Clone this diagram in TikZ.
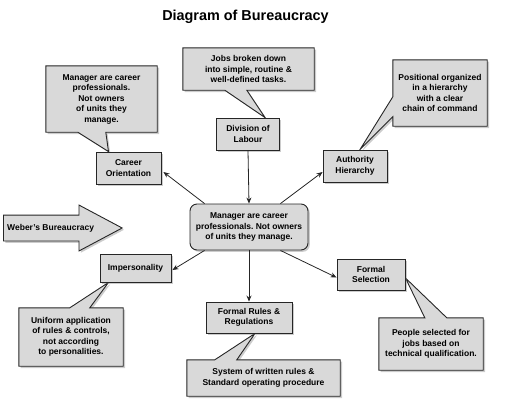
\documentclass[tikz,border=0pt]{standalone}
\usepackage{fontspec}
\setmainfont{Liberation Sans}
\frenchspacing
\usetikzlibrary{%
		shapes.arrows%
		,shadows%
		,backgrounds%
		,arrows.meta%
	}
\definecolor{boxgray}{HTML}{D9D9D9}
\definecolor{edgegray}{HTML}{262626}
\tikzset{
	boxshadow/.style={drop shadow={shadow xshift=1.8pt,shadow yshift=-1.8pt,opacity=.4}},
	labelfont/.style={font=\bfseries\fontsize{8.5}{10.5}\selectfont},
	boxnode/.style={draw=edgegray,line width=0.9pt,fill=boxgray,boxshadow,labelfont,align=center,inner sep=0pt},
	hubnode/.style={boxnode,rounded corners=7pt},
	notetext/.style={labelfont,align=center,inner sep=0pt},
	noteshape/.style={draw=edgegray,line width=0.9pt,fill=boxgray,boxshadow,line join=miter},
	weberarrow/.style={single arrow,draw=edgegray,line width=0.9pt,fill=boxgray,boxshadow,labelfont,
		single arrow head extend=10pt,single arrow tip angle=56,minimum height=114pt,
		inner ysep=8.5pt,text height=6.3pt,text depth=1.7pt},
	link/.style={draw=edgegray,line width=0.8pt,-{Stealth[length=6pt,width=5pt]}}
}

\begin{document}
\begin{tikzpicture}[x=1pt,y=-1pt]
			\useasboundingbox (0,0) rectangle (515,400);

			\node[font=\bfseries\fontsize{14.4}{17}\selectfont,anchor=base] (title) at (245.5,20) {Diagram of Bureaucracy};

			\node[hubnode,minimum width=118pt,minimum height=46pt] (hub) at (249,227) {Manager are career\\professionals. Not owners\\of units they manage.};
			\node[boxnode,minimum width=65pt,minimum height=32pt] (career) at (128.5,168) {Career\\Orientation};
			\node[boxnode,minimum width=63pt,minimum height=32pt] (division) at (248,134) {Division of\\Labour};
			\node[boxnode,minimum width=64pt,minimum height=32pt] (authority) at (355,166) {Authority\\Hierarchy};
			\node[boxnode,minimum width=71pt,minimum height=28pt] (imperson) at (135.5,268) {Impersonality};
			\node[boxnode,minimum width=86pt,minimum height=31pt] (rules) at (249,317.5) {Formal Rules \&\\Regulations};
			\node[boxnode,minimum width=68pt,minimum height=31pt] (selection) at (371,274.5) {Formal\\Selection};

			\node[weberarrow,anchor=tail] (weber) at (3,228) {Weber's Bureaucracy};

			\node[notetext,minimum width=111pt,minimum height=66pt] (careernote) at (101.5,99) {Manager are career\\professionals.\\Not owners\\of units they\\manage.};
			\node[notetext,minimum width=131pt,minimum height=42pt] (jobsnote) at (248.5,69) {Jobs broken down\\into simple, routine \&\\well-defined tasks.};
			\node[notetext,minimum width=94pt,minimum height=66pt] (chainnote) at (440,93) {Positional organized\\in a hierarchy\\with a clear\\chain of command};
			\node[notetext,minimum width=104pt,minimum height=58pt] (impnote) at (71,337) {Uniform application\\of rules \& controls,\\not according\\to personalities.};
			\node[notetext,minimum width=153pt,minimum height=36pt] (sysnote) at (263.5,378) {System of written rules \&\\Standard operating procedure};
			\node[notetext,minimum width=104pt,minimum height=52pt] (selnote) at (431,344) {People selected for\\jobs based on\\technical qualification.};

			\begin{scope}[on background layer]
				\filldraw[noteshape] (careernote.north west) -- (careernote.north east) -- (careernote.south east)
					-- ([xshift=60pt]careernote.south west) -- ([xshift=-20pt]career.north)
					-- ([xshift=32pt]careernote.south west) -- (careernote.south west) -- cycle;
				\filldraw[noteshape] (jobsnote.north west) -- (jobsnote.north east) -- (jobsnote.south east)
					-- ([xshift=64pt]jobsnote.south west) -- ([xshift=17pt]division.north)
					-- ([xshift=42pt]jobsnote.south west) -- (jobsnote.south west) -- cycle;
				\filldraw[noteshape] (chainnote.north west) -- (chainnote.north east) -- (chainnote.south east)
					-- (chainnote.south west) -- ([yshift=-57pt]chainnote.north west)
					-- ([xshift=5pt]authority.north) -- ([yshift=-37pt]chainnote.north west) -- cycle;
				\filldraw[noteshape] (impnote.south west) -- (impnote.north west) -- ([xshift=51pt]impnote.north west)
					-- ([xshift=-27pt]imperson.south) -- ([xshift=71pt]impnote.north west)
					-- (impnote.north east) -- (impnote.south east) -- cycle;
				\filldraw[noteshape] (sysnote.south west) -- (sysnote.north west) -- ([xshift=28pt]sysnote.north west)
					-- ([xshift=6pt]rules.south) -- ([xshift=50pt]sysnote.north west)
					-- (sysnote.north east) -- (sysnote.south east) -- cycle;
				\filldraw[noteshape] (selnote.south west) -- (selnote.north west) -- ([xshift=46pt]selnote.north west)
					-- ([yshift=-3.5pt]selection.east) -- ([xshift=68pt]selnote.north west)
					-- (selnote.north east) -- (selnote.south east) -- cycle;
			\end{scope}

			\draw[link] (division.south) -- (hub.north);
			\draw[link] (hub.south) -- (rules.north);
			\draw[link] ([xshift=15pt]hub.north west) -- ([yshift=-4pt,xshift=2pt]career.east);
			\draw[link] ([xshift=-28pt]hub.north east) -- ([yshift=-6pt]authority.west);
			\draw[link] ([xshift=15pt]hub.south west) -- ([yshift=-2pt,xshift=1pt]imperson.east);
			\draw[link] ([xshift=-28pt]hub.south east) -- ([yshift=-3pt]selection.west);
		\end{tikzpicture}
\end{document}
